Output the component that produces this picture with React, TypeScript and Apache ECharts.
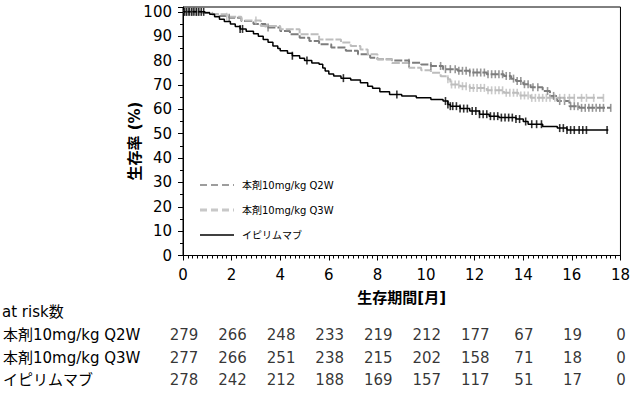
import React, { useEffect, useRef } from "react";
import * as echarts from "echarts";

const FONT = "'DejaVu Sans', 'Noto Sans CJK JP', sans-serif";

const seriesNames = ["本剤10mg/kg Q2W", "本剤10mg/kg Q3W", "イピリムマブ"];
const seriesColors = ["#7d7d7d", "#bdbdbd", "#000000"];

// Kaplan-Meier step points [month, survival %]
const kmQ2W: number[][] = [
  [0, 100], [0.8, 99.6], [1.2, 99], [1.5, 98.3], [1.9, 97.6], [2.4, 96.3], [2.9, 95],
  [3.4, 93.6], [4.0, 92.2], [4.4, 90.8], [4.8, 89.4], [5.2, 88], [5.6, 86.7], [6.1, 85.4],
  [6.7, 84], [7.2, 82.6], [7.7, 81.2], [8.0, 80.6], [8.6, 80], [9.3, 79.1], [9.8, 78.4],
  [10.2, 77.8], [10.7, 76.5], [11.3, 75.8], [11.8, 75.1], [12.5, 74.4], [13.2, 73.7],
  [13.5, 72.6], [13.7, 71.6], [14.0, 70.3], [14.3, 69.1], [14.8, 67.5], [15.1, 65.5],
  [15.4, 63.4], [15.9, 61.3], [16.3, 60.6], [17.6, 60.6],
];
const kmQ3W: number[][] = [
  [0, 100], [0.7, 99.6], [1.2, 99], [1.8, 98], [2.4, 96.5], [3.2, 94.2], [4.0, 92.9],
  [4.8, 90.8], [5.6, 88.7], [6.5, 87.4], [6.9, 86], [7.3, 84.6], [7.6, 82.6], [8.0, 80.6],
  [8.6, 79], [9.3, 77.1], [9.8, 76], [10.2, 75], [10.6, 73.6], [10.9, 72.3], [11.0, 70.2],
  [11.4, 69.5], [11.8, 68.8], [12.5, 67.8], [13.2, 66.8], [13.8, 65.7], [14.3, 64.7],
  [17.3, 64.7],
];
const kmIpi: number[][] = [
  [0, 100], [0.9, 99.6], [1.1, 99], [1.3, 98], [1.5, 97], [1.7, 96], [1.95, 95], [2.15, 94],
  [2.35, 93], [2.6, 92], [2.9, 91], [3.1, 90], [3.3, 88.7], [3.5, 87.5], [3.7, 86], [3.9, 85],
  [4.0, 84], [4.3, 83], [4.5, 82], [4.8, 81], [5.0, 80], [5.3, 79], [5.6, 78.5], [5.75, 77],
  [5.85, 75.7], [6.0, 74.5], [6.2, 73.7], [6.5, 72.8], [6.9, 72], [7.3, 70.9], [7.6, 69.5],
  [7.8, 68.6], [8.1, 67.2], [8.5, 66.1], [9.0, 65.5], [9.6, 64.7], [10.2, 64], [10.7, 63.4],
  [10.9, 62], [11.0, 61.3], [11.4, 60.3], [11.8, 59.3], [12.2, 58], [12.6, 57.2], [13.0, 56.6],
  [13.7, 56], [14.0, 55], [14.2, 53.9], [14.8, 53], [15.4, 52.3], [15.8, 51.5], [17.5, 51.5],
];

// censoring times (months)
const censorQ2W = [
  0.1, 0.25, 0.4, 0.55, 1.9, 3.5, 9.3, 10.2, 10.6, 10.8, 11.0, 11.2, 11.35, 11.5, 11.65, 11.8,
  11.95, 12.1, 12.25, 12.4, 12.55, 12.7, 12.85, 13.0, 13.15, 13.3, 13.45, 13.6, 13.75, 13.9,
  14.05, 14.2, 14.4, 14.6, 15.0, 15.25, 15.5, 15.7, 15.95, 16.1, 16.25, 16.4, 16.55, 16.7,
  16.85, 17.0, 17.15, 17.3, 17.6,
];
const censorQ3W = [
  0.15, 0.35, 0.6, 1.8, 3.0, 10.9, 11.05, 11.2, 11.35, 11.5, 11.65, 11.8, 11.95, 12.1, 12.25,
  12.4, 12.55, 12.7, 12.85, 13.0, 13.15, 13.3, 13.45, 13.6, 13.75, 13.9, 14.05, 14.2, 14.35,
  14.5, 14.65, 14.8, 14.95, 15.1, 15.3, 15.5, 15.7, 15.9, 16.1, 16.4, 16.6, 16.9, 17.3,
];
const censorIpi = [
  0.05, 0.15, 0.25, 0.35, 0.45, 0.55, 0.65, 0.75, 0.85, 2.35, 2.45, 4.5, 5.1, 6.6, 8.8, 10.8,
  10.9, 11.0, 11.1, 11.25, 11.4, 11.55, 11.7, 11.9, 12.05, 12.2, 12.35, 12.5, 12.65, 12.8,
  12.95, 13.1, 13.25, 13.4, 13.55, 13.7, 13.85, 14.1, 14.35, 14.55, 14.75, 15.5, 15.65, 15.8,
  15.95, 16.1, 16.3, 16.45, 16.6, 17.45,
];

// at-risk table
const riskMonths = [0, 2, 4, 6, 8, 10, 12, 14, 16, 18];
const atRiskQ2W = [279, 266, 248, 233, 219, 212, 177, 67, 19, 0];
const atRiskQ3W = [277, 266, 251, 238, 215, 202, 158, 71, 18, 0];
const atRiskIpi = [278, 242, 212, 188, 169, 157, 117, 51, 17, 0];

function survivalAt(km: number[][], t: number): number {
  let s = km[0][1];
  for (const [x, y] of km) {
    if (x <= t) s = y;
    else break;
  }
  return s;
}

// legend key styles
const legendLineStyles = [
  { stroke: "#7d7d7d", lineWidth: 1.3, lineDash: [7, 4] },
  { stroke: "#c8c8c8", lineWidth: 3, lineDash: [7, 4] },
  { stroke: "#000000", lineWidth: 1.5 },
];

export default function App() {
  const ref = useRef<HTMLDivElement>(null);
  useEffect(() => {
    if (!ref.current) return;
    const chart = echarts.init(ref.current, null, { renderer: "svg" });
    const kms = [kmQ2W, kmQ3W, kmIpi];
    const censors = [censorQ2W, censorQ3W, censorIpi];
    const risks = [atRiskQ2W, atRiskQ3W, atRiskIpi];

    const lineSeries: any[] = [1, 0, 2].map((i) => ({
      name: seriesNames[i],
      type: "line",
      step: "end",
      data: kms[i],
      symbol: "none",
      z: 2 + i,
      lineStyle: {
        color: seriesColors[i],
        width: i === 2 ? 1.5 : 2,
        type: i === 2 ? "solid" : [8, 2],
      },
      itemStyle: { color: seriesColors[i] },
    }));
    const censorSeries: any[] = [1, 0, 2].map((i) => ({
      name: seriesNames[i] + " censor",
      type: "scatter",
      data: censors[i].map((t) => [t, survivalAt(kms[i], t)]),
      symbol: "rect",
      symbolSize: [1.6, 8],
      z: 3 + i,
      itemStyle: { color: seriesColors[i] },
    }));
    const tableSeries: any[] = [0, 1, 2].map((i) => ({
      name: "risk" + i,
      type: "scatter",
      xAxisIndex: 1,
      yAxisIndex: 1,
      data: riskMonths.map((m, k) => [m, seriesNames[i], risks[i][k]]),
      symbolSize: 1,
      itemStyle: { color: "rgba(0,0,0,0)" },
      label: {
        show: true,
        position: "inside",
        formatter: (p: any) => String(p.value[2]),
        fontSize: 15,
        fontFamily: FONT,
        color: "#000",
      },
    }));

    const legendGraphics: any[] = [];
    seriesNames.forEach((name, i) => {
      const cy = 185 + i * 25;
      legendGraphics.push({
        type: "line",
        shape: { x1: 200, y1: cy, x2: 234, y2: cy },
        style: legendLineStyles[i],
      });
      legendGraphics.push({
        type: "text",
        x: 242,
        y: cy,
        style: {
          text: name,
          align: "left",
          verticalAlign: "middle",
          fontSize: 10,
          fontFamily: FONT,
          fill: "#000",
        },
      });
    });

    chart.setOption({
      animation: false,
      textStyle: { fontFamily: FONT },
      grid: [
        {
          left: 183,
          right: 12,
          top: 7,
          bottom: 139.5,
          show: true,
          borderColor: "#000",
          borderWidth: 1,
        },
        { left: 183, right: 12, top: 324, height: 67 },
      ],
      xAxis: [
        {
          type: "value",
          gridIndex: 0,
          min: 0,
          max: 18,
          interval: 2,
          name: "生存期間[月]",
          nameLocation: "middle",
          nameGap: 35,
          nameTextStyle: { fontSize: 15, fontWeight: "bold", color: "#000", fontFamily: FONT },
          axisLine: { lineStyle: { color: "#000", width: 1 } },
          axisTick: { length: 5, lineStyle: { color: "#000" } },
          minorTick: { show: true, splitNumber: 10, length: 3, lineStyle: { color: "#000" } },
          axisLabel: { fontSize: 15, color: "#000", margin: 12, fontFamily: FONT },
          splitLine: { show: false },
        },
        {
          type: "value",
          gridIndex: 1,
          min: 0,
          max: 18,
          show: false,
        },
      ],
      yAxis: [
        {
          type: "value",
          gridIndex: 0,
          min: 0,
          max: 102,
          interval: 10,
          axisLine: { show: true, lineStyle: { color: "#000", width: 1 } },
          axisTick: { show: true, length: 5, lineStyle: { color: "#000" } },
          minorTick: { show: true, splitNumber: 2, length: 3, lineStyle: { color: "#000" } },
          axisLabel: {
            fontSize: 15,
            color: "#000",
            margin: 11,
            fontFamily: FONT,
            formatter: (v: number) => (v > 100 ? "" : String(v)),
          },
          splitLine: { show: false },
        },
        {
          type: "category",
          gridIndex: 1,
          inverse: true,
          data: seriesNames,
          axisLine: { show: false },
          axisTick: { show: false },
          axisLabel: {
            align: "left",
            margin: 181,
            fontSize: 15,
            color: "#000",
            fontFamily: FONT,
          },
        },
      ],
      graphic: [
        {
          type: "text",
          x: 135,
          y: 141,
          rotation: Math.PI / 2,
          style: {
            text: "生存率 (%)",
            align: "center",
            verticalAlign: "middle",
            fontSize: 15,
            fontWeight: "bold",
            fontFamily: FONT,
            fill: "#000",
          },
        },
        {
          type: "text",
          x: 2,
          y: 312,
          style: {
            text: "at risk数",
            align: "left",
            verticalAlign: "middle",
            fontSize: 15,
            fontFamily: FONT,
            fill: "#000",
          },
        },
        ...legendGraphics,
      ],
      series: [...lineSeries, ...censorSeries, ...tableSeries],
    });
    return () => chart.dispose();
  }, []);
  return (
    <div
      ref={ref}
      style={{ position: "fixed", left: 0, top: 0, width: 633, height: 395, background: "#fff" }}
    />
  );
}
